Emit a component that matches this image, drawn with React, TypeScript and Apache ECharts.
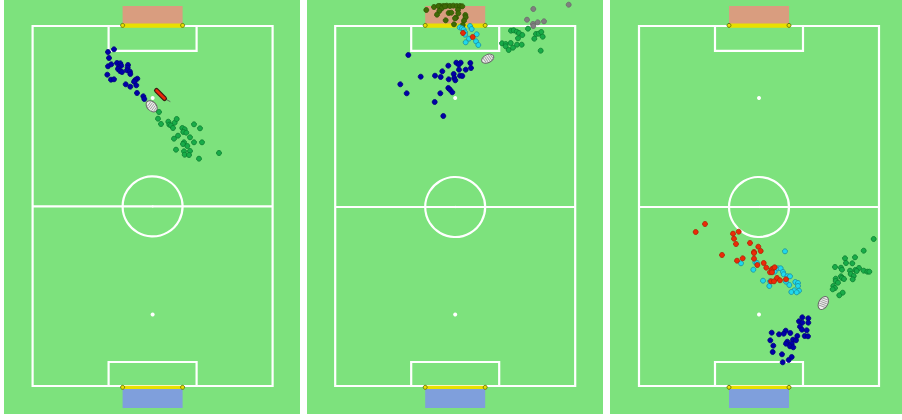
import React, { useEffect, useRef } from "react";
import * as echarts from "echarts";

// Pitch units: x 0..240 touchline to touchline, y 0..360 goal line to goal line.
const PITCH_W = 240;
const PITCH_H = 360;

const panel1Blue = [[76,26],[82,23.3],[77,32],[76,40.3],[79.3,38.3],[85,37],[88.3,37.3],[89.3,39.7],[86.7,41.7],[86,43],[88,45],[90,46],[96,39],[95.7,41.7],[95,44.3],[98,45.7],[98.3,48],[75.3,48.7],[79,53.7],[82,53.3],[105.3,52.7],[103.3,54],[102,55.7],[93.7,58.3],[98.3,60.7],[104.3,59.3],[105,67],[111.3,70.3],[112.3,73]];
const panel1Green = [[127,86],[126,92.7],[129,98],[136.3,95.7],[137.3,98.7],[139,99.3],[142.7,96.7],[144.7,93],[141,102],[150.3,102],[152.7,103.3],[151.3,106],[154.3,106.7],[162,98.3],[168,102.3],[158,111.3],[146,109.7],[142,112.7],[152,116.3],[151,118],[155.3,120],[162,116.3],[170,116.3],[144,123.7],[152,125.3],[158,125],[152.7,128.7],[157,129],[167,132.7],[187,127]];
const panel1Keeper = [[124.5,64.5],[132.5,72.5]];
const panel1KeeperTail = [[132.5,72.5],[138,75.5]];
const panel1Ball = [119.7, 80.3];

const panel2Blue = [[73.3,29],[113.3,39.7],[121.3,36.7],[125.7,36.7],[123.7,38.7],[135.3,37],[136,42],[130.7,43.7],[124,43.7],[107.3,45.3],[100,49.7],[105.7,51],[85.7,50.7],[113.7,53.3],[118.7,48],[119.3,52],[120.3,54.3],[125,49.7],[127.3,50],[65.3,58.3],[71.7,67.3],[105.3,67.3],[113.3,62],[115,63.7],[117.3,66.3],[99.7,76],[108.3,90]];
const panel2Green = [[176,4.7],[178.7,4.3],[181.7,5.7],[184,7],[193,2.7],[187.3,9],[183,12.3],[201,8],[203.7,7.7],[206.3,6],[207.7,10.7],[199.3,12.7],[167,17.3],[170.7,18],[175.7,17],[170.7,20.3],[173.7,24],[178,21.7],[182,18.7],[186.7,18.7],[205.7,24.7]];
const panel2Cyan = [[124.7,1.3],[127,2.3],[128.7,3.7],[130,6.3],[130,8.7],[135,0],[136.7,3],[141.7,8.3],[134,12.7],[141,15.3],[143.3,19],[130.7,16.3]];
const panel2Red = [[128,7],[137.7,11]];
const panel2Olive = [[91.3,-16],[99,-19],[105,-20],[108.3,-20],[111.7,-20.3],[115,-20],[118.3,-20.3],[121.7,-20],[125,-20],[127.3,-19.7],[103.3,-20],[106.7,-17.7],[110,-19.7],[104.3,-15],[102,-11.3],[113.7,-13],[116.3,-13.3],[123,-16],[123.3,-12.7],[121,-8.3],[120,-7.7],[130.3,-11],[130.7,-8.7],[129,-5.3],[110.7,-5.7],[119,-1.7],[127.7,-1]];
const panel2Gray = [[198.3,-17],[233.7,-21.3],[192,-6.3],[198,-2],[202.7,-3.7],[209,-4.7],[198.3,0]];
const panel2Ball = [152.7, 32.7];

const panel3Red = [[67,198],[57.7,206],[95,207.7],[100.7,205.7],[96,212.7],[98,218],[112,217],[120.3,220.7],[116,226],[116,227],[122.7,225],[84,229],[99,234.7],[104.7,232.3],[116,232.7],[119.3,239],[125.7,237],[128.3,241.7],[132,246.3],[133.7,243.3],[135.3,242.3],[136.7,241.3],[134,246.3],[139,252],[142,254.3],[148,253.3],[133,255.3],[136,255.3]];
const panel3Cyan = [[147,225.3],[103,237.3],[117.3,236.3],[119,237],[115.3,243.7],[136.7,245.7],[140,242.3],[142.7,242.3],[145,246],[145.7,248.3],[149.3,250.3],[152,250.3],[125,254.7],[132,255.3],[131.3,260],[151.3,259],[148,255.7],[157.3,256],[160,257],[160,260],[161,264.7],[156.3,264.3],[153.3,266],[158.7,266.3]];
const panel3Green = [[235.7,213],[225.7,224.7],[207,232.3],[217,231.3],[208,237],[214.3,237.3],[197,241],[203,241.7],[204,243.7],[221,242],[217.3,244],[212,244.7],[218.7,245],[225.7,244.7],[229.3,245.7],[231.3,245.7],[212.7,248],[215.7,250],[203,250.3],[204,252],[206,253],[214.7,253.3],[197.7,252.7],[197.7,255],[200,256.7],[195.3,260],[197,262],[194.7,263.3],[204.7,266.7],[201.3,269.3]];
const panel3Blue = [[164.3,291.3],[170.3,292.3],[161,295.3],[164.3,296.7],[170.3,296.7],[162,300.7],[164,303.7],[168.7,304.3],[133.7,306.7],[147.7,304.7],[152.3,307],[145.7,307.7],[141,308.3],[159.3,310],[166.7,310],[170,310.3],[132.3,314.3],[155,313.7],[158,314.3],[149.3,315.7],[148,317.7],[153.7,317.7],[152,320.3],[155.3,321.3],[135.3,319.7],[134.7,326],[144,328.3],[153.7,331],[150.7,334],[144.7,336.3]];
const panel3Ball = [185.3, 277];

const COLORS = {
  blue: ["#0000a8", "#000078"],
  green: ["#18ac48", "#0a7c30"],
  cyan: ["#1fd8ec", "#1c8ea0"],
  red: ["#ec2a08", "#ac2206"],
  olive: ["#3f6a06", "#2f5504"],
  gray: ["#7f7f7f", "#6a6a6a"],
};

const GRASS = "#7de27d";
const WHITE = "#ffffff";

// Each panel's pitch sits a fraction of a unit away from the panel's nominal origin.
const PITCH_DX = [0.6, 0.2, 1];
const MID_DY = [0.4, 1, 1];

function pitchRender(panel: number) {
  const dx = PITCH_DX[panel];
  const midY = PITCH_H / 2 + MID_DY[panel];
  return (_: any, api: any) => {
    const p = (x: number, y: number) => api.coord([x + dx, y]);
    const line = (x1: number, y1: number, x2: number, y2: number) => {
      const a = p(x1, y1);
      const b = p(x2, y2);
      return {
        type: "line",
        shape: { x1: a[0], y1: a[1], x2: b[0], y2: b[1] },
        style: { stroke: WHITE, lineWidth: 2.2 },
      };
    };
    const fillRect = (x1: number, y1: number, x2: number, y2: number, fill: string) => {
      const a = p(x1, y1);
      const b = p(x2, y2);
      return {
        type: "rect",
        shape: { x: a[0], y: a[1], width: b[0] - a[0], height: b[1] - a[1] },
        style: { fill },
      };
    };
    const boxRect = (x1: number, y1: number, x2: number, y2: number) => {
      const a = p(x1, y1);
      const b = p(x2, y2);
      return {
        type: "rect",
        shape: { x: a[0], y: a[1], width: b[0] - a[0], height: b[1] - a[1] },
        style: { fill: "none", stroke: WHITE, lineWidth: 2.2 },
      };
    };
    const dot = (x: number, y: number, r: number, fill: string, stroke?: string) => {
      const a = p(x, y);
      return {
        type: "circle",
        shape: { cx: a[0], cy: a[1], r },
        style: { fill, stroke: stroke ?? "none", lineWidth: stroke ? 1 : 0 },
      };
    };
    const c = p(PITCH_W / 2, midY);
    const r = api.size([30, 0])[0];
    return {
      type: "group",
      children: [
        fillRect(90, -20, 150, -1, "#d99d7f"),
        fillRect(90, 363, 150, 382, "#7f9fdc"),
        boxRect(0, 0, PITCH_W, PITCH_H),
        boxRect(76, 0, 164, 24.8),
        boxRect(76, 336, 164, 360),
        line(0, midY, PITCH_W, midY),
        {
          type: "circle",
          shape: { cx: c[0], cy: c[1], r },
          style: { fill: "none", stroke: WHITE, lineWidth: 2.2 },
        },
        dot(PITCH_W / 2, midY, 1, WHITE),
        dot(PITCH_W / 2, 72, 2, WHITE),
        dot(PITCH_W / 2, 288.5, 2, WHITE),
        fillRect(90, -2.4, 150, 1.8, "#e8e000"),
        fillRect(90, 359.7, 150, 363, "#e8e000"),
        dot(90, -0.6, 2, "#e8e000", "#6a7a10"),
        dot(150, -0.6, 2, "#e8e000", "#6a7a10"),
        dot(90, 361.3, 2, "#e8e000", "#6a7a10"),
        dot(150, 361.3, 2, "#e8e000", "#6a7a10"),
      ],
    };
  };
}

function ballRender(angle: number, rx: number, ry: number) {
  return (_: any, api: any) => {
    const c = api.coord([api.value(0), api.value(1)]);
    const hatch = [-4, -2, 0, 2, 4].map((dx) => ({
      type: "line",
      shape: { x1: dx, y1: -ry + 1.2, x2: dx + 1, y2: ry - 1.2 },
      style: { stroke: "#9a9a9a", lineWidth: 0.9 },
    }));
    return {
      type: "group",
      x: c[0],
      y: c[1],
      rotation: angle,
      children: [
        {
          type: "ellipse",
          shape: { cx: 0, cy: 0, rx, ry },
          style: { fill: "#efefef", stroke: "#666666", lineWidth: 1 },
        },
        ...hatch,
      ],
    };
  };
}

function keeperRender(_: any, api: any) {
  const a = api.coord(panel1Keeper[0]);
  const b = api.coord(panel1Keeper[1]);
  const t = api.coord(panel1KeeperTail[1]);
  const seg = (stroke: string, w: number, ax: number[], bx: number[]) => ({
    type: "line",
    shape: { x1: ax[0], y1: ax[1], x2: bx[0], y2: bx[1] },
    style: { stroke, lineWidth: w, lineCap: "round" },
  });
  return {
    type: "group",
    children: [
      seg("#5f6f5f", 1, b, t),
      seg("#3a1a10", 5, a, b),
      seg("#e8280a", 2.6, a, b),
    ],
  };
}

const pts = (i: number, data: number[][], c: string[], z = 5) => ({
  type: "scatter",
  xAxisIndex: i,
  yAxisIndex: i,
  data,
  symbol: "circle",
  symbolSize: 5,
  z,
  silent: true,
  clip: false,
  itemStyle: { color: c[0], borderColor: c[1], borderWidth: 0.8, opacity: 1 },
});

const pitchSeries = (i: number) => ({
  type: "custom",
  xAxisIndex: i,
  yAxisIndex: i,
  data: [[0, 0]],
  renderItem: pitchRender(i),
  silent: true,
  z: 1,
});

const ballSeries = (i: number, pos: number[], angle: number, rx: number, ry: number) => ({
  type: "custom",
  xAxisIndex: i,
  yAxisIndex: i,
  data: [pos],
  renderItem: ballRender(angle, rx, ry),
  silent: true,
  z: 4,
});

export default function App() {
  const ref = useRef<HTMLDivElement>(null);
  useEffect(() => {
    if (!ref.current) return;
    const chart = echarts.init(ref.current, undefined, { renderer: "svg" });
    const panels = [0, 1, 2];
    chart.setOption({
      animation: false,
      backgroundColor: "#ffffff",
      grid: panels.map((i) => ({
        left: 4 + 303 * i,
        top: 0,
        width: i === 2 ? 292 : 296,
        height: 414,
        show: true,
        backgroundColor: GRASS,
        borderWidth: 0,
      })),
      xAxis: panels.map((i) => ({
        type: "value",
        gridIndex: i,
        min: -28,
        max: i === 2 ? 264 : 268,
        show: false,
      })),
      yAxis: panels.map((i) => ({
        type: "value",
        gridIndex: i,
        min: -26,
        max: 388,
        inverse: true,
        show: false,
      })),
      series: [
        pitchSeries(0),
        pitchSeries(1),
        pitchSeries(2),
        pts(0, panel1Blue, COLORS.blue),
        pts(0, panel1Green, COLORS.green),
        {
          type: "custom",
          xAxisIndex: 0,
          yAxisIndex: 0,
          data: [[0, 0]],
          renderItem: keeperRender,
          silent: true,
          z: 4,
        },
        ballSeries(0, panel1Ball, -Math.PI / 4, 6.5, 4.5),
        pts(1, panel2Olive, COLORS.olive),
        pts(1, panel2Gray, COLORS.gray),
        pts(1, panel2Blue, COLORS.blue),
        pts(1, panel2Green, COLORS.green),
        pts(1, panel2Cyan, COLORS.cyan),
        pts(1, panel2Red, COLORS.red, 6),
        ballSeries(1, panel2Ball, Math.PI / 7, 6.5, 4),
        pts(2, panel3Blue, COLORS.blue),
        pts(2, panel3Green, COLORS.green),
        pts(2, panel3Cyan, COLORS.cyan),
        pts(2, panel3Red, COLORS.red, 6),
        ballSeries(2, panel3Ball, Math.PI / 3, 7, 4.5),
      ],
    });
    return () => chart.dispose();
  }, []);
  return (
    <div
      ref={ref}
      style={{ position: "fixed", left: 0, top: 0, width: 902, height: 420 }}
    />
  );
}
